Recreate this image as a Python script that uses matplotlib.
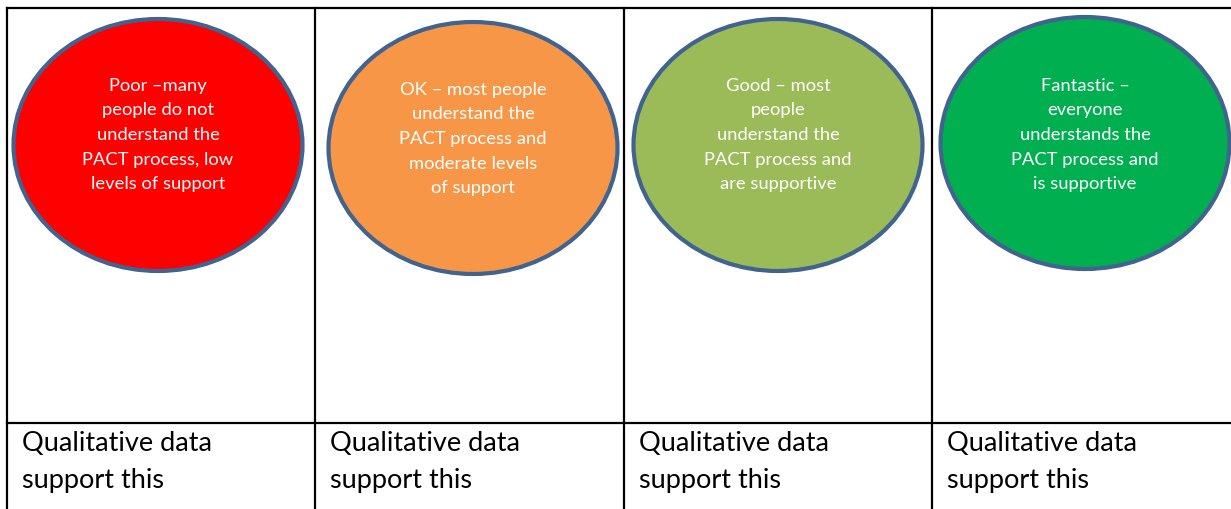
import matplotlib.pyplot as plt
from matplotlib.patches import Ellipse

W, H = 1231, 510

ratings = [
    "Poor \u2013many\npeople do not\nunderstand the\nPACT process, low\nlevels of support",
    "OK \u2013 most people\nunderstand the\nPACT process and\nmoderate levels\nof support",
    "Good \u2013 most\npeople\nunderstand the\nPACT process and\nare supportive",
    "Fantastic \u2013\neveryone\nunderstands the\nPACT process and\nis supportive",
]
fills = ["#FF0000", "#F79646", "#9BBB59", "#00B050"]
evidence = ["Qualitative data\nsupport this"] * 4

col_edges = [7, 315, 624, 932, 1240]
centers = [(158, 146), (473, 149), (778, 146), (1085, 144)]
text_y = [135, 139, 135, 135]

fig = plt.figure(figsize=(W / 100, H / 100), dpi=100)
ax = fig.add_axes([0, 0, 1, 1])
ax.set_xlim(0, W)
ax.set_ylim(H, 0)
ax.axis("off")

# table grid
ax.plot([7, W], [9, 9], color="black", lw=1.6)
ax.plot([7, W], [424, 424], color="black", lw=1.6)
for x in col_edges[:-1]:
    ax.plot([x, x], [9, H], color="black", lw=1.6)

for i, (label, fc) in enumerate(zip(ratings, fills)):
    cx, cy = centers[i]
    ax.add_patch(Ellipse((cx, cy), 289, 252, facecolor=fc,
                         edgecolor="#41638F", lw=3))
    ax.text(cx, text_y[i], label, ha="center", va="center", color="white",
            fontsize=13.2, family="Lato", linespacing=1.66)
    ax.text(col_edges[i] + 15, 462, evidence[i], ha="left", va="center",
            color="black", fontsize=19.5, family="Lato", linespacing=1.6)

fig.savefig("out.png", dpi=100)
